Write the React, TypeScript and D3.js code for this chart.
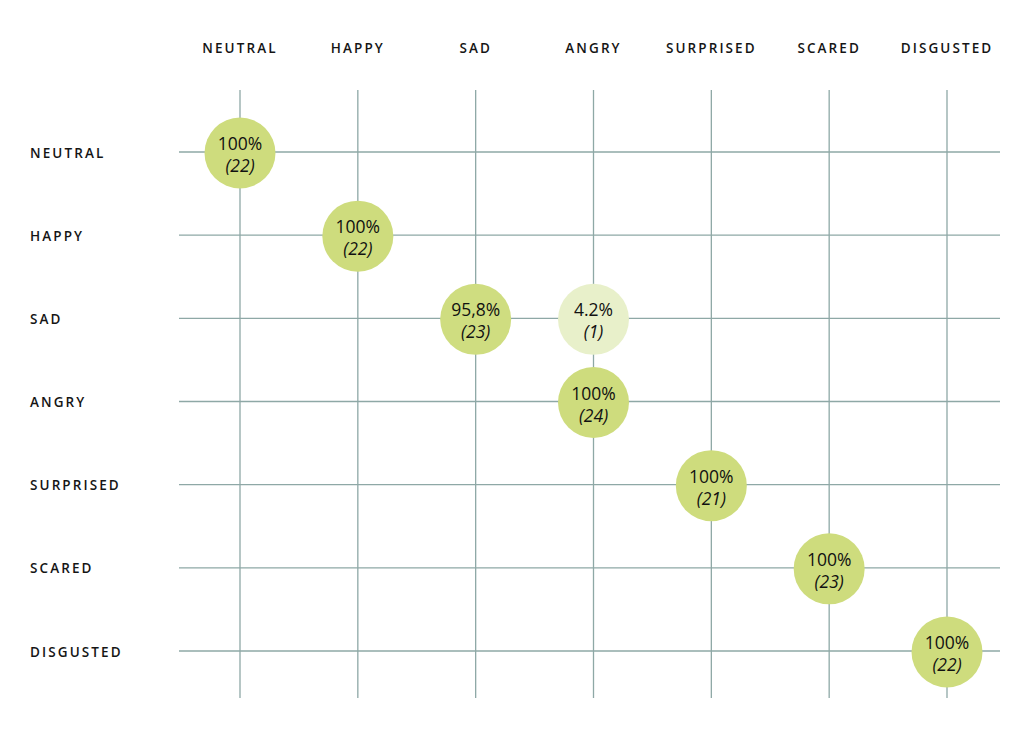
import React from 'react';
import * as d3 from 'd3';

const categories = ['NEUTRAL', 'HAPPY', 'SAD', 'ANGRY', 'SURPRISED', 'SCARED', 'DISGUSTED'];

// one entry per filled cell: actual row, predicted column, percent label, count
const cellRows = ['NEUTRAL', 'HAPPY', 'SAD', 'SAD', 'ANGRY', 'SURPRISED', 'SCARED', 'DISGUSTED'];
const cellCols = ['NEUTRAL', 'HAPPY', 'SAD', 'ANGRY', 'ANGRY', 'SURPRISED', 'SCARED', 'DISGUSTED'];
const cellPercents = [100, 100, 95.8, 4.2, 100, 100, 100, 100];
const cellPercentLabels = ['100%', '100%', '95,8%', '4.2%', '100%', '100%', '100%', '100%'];
const cellCounts = [22, 22, 23, 1, 24, 21, 23, 22];

const width = 1024;
const height = 730;
const gridColor = '#8ea8a6';
const labelFont = "'Open Sans', 'DejaVu Sans', sans-serif";

function App() {
  const x = d3.scalePoint<string>().domain(categories).range([240, 947]);
  const y = d3.scalePoint<string>().domain(categories).range([152, 651]);
  const fill = d3.scaleLinear<string>().domain([0, 100]).range(['#e9f1cd', '#cedc7d']);
  const r = 35.5;

  const cells = cellRows.map((row, i) => ({
    row,
    col: cellCols[i],
    pct: cellPercents[i],
    label: cellPercentLabels[i],
    count: cellCounts[i],
  }));

  return (
    <div style={{ position: 'absolute', left: 0, top: 0 }}>
      <svg width={width} height={height} style={{ display: 'block', background: '#fff' }}>
        {/* column headers */}
        {categories.map(c => (
          <text
            key={'col-' + c}
            x={x(c)}
            y={53}
            textAnchor='middle'
            fontFamily={labelFont}
            fontSize={13.5}
            fontWeight={600}
            letterSpacing={2.1}
            fill='#151515'
          >
            {c}
          </text>
        ))}

        {/* row labels */}
        {categories.map(c => (
          <text
            key={'row-' + c}
            x={30}
            y={(y(c) ?? 0) + 5.5}
            fontFamily={labelFont}
            fontSize={13.5}
            fontWeight={600}
            letterSpacing={2.1}
            fill='#151515'
          >
            {c}
          </text>
        ))}

        {/* grid */}
        {categories.map(c => (
          <line key={'v-' + c} x1={x(c)} x2={x(c)} y1={90} y2={698} stroke={gridColor} strokeWidth={1.3} />
        ))}
        {categories.map(c => (
          <line key={'h-' + c} x1={179} x2={1000} y1={y(c)} y2={y(c)} stroke={gridColor} strokeWidth={1.3} />
        ))}

        {/* cells */}
        {cells.map((d, i) => {
          const cx = x(d.col) ?? 0;
          const cy = (y(d.row) ?? 0) + 1;
          return (
            <g key={'cell-' + i}>
              <circle cx={cx} cy={cy} r={r} fill={fill(d.pct)} />
              <text x={cx} y={cy - 3} textAnchor='middle' fontFamily={labelFont} fontSize={17.5} fill='#111'>
                {d.label}
              </text>
              <text x={cx} y={cy + 19} textAnchor='middle' fontFamily={labelFont} fontSize={17.5} fontStyle='italic' fill='#111'>
                ({d.count})
              </text>
            </g>
          );
        })}
      </svg>
    </div>
  );
}

export default App;
